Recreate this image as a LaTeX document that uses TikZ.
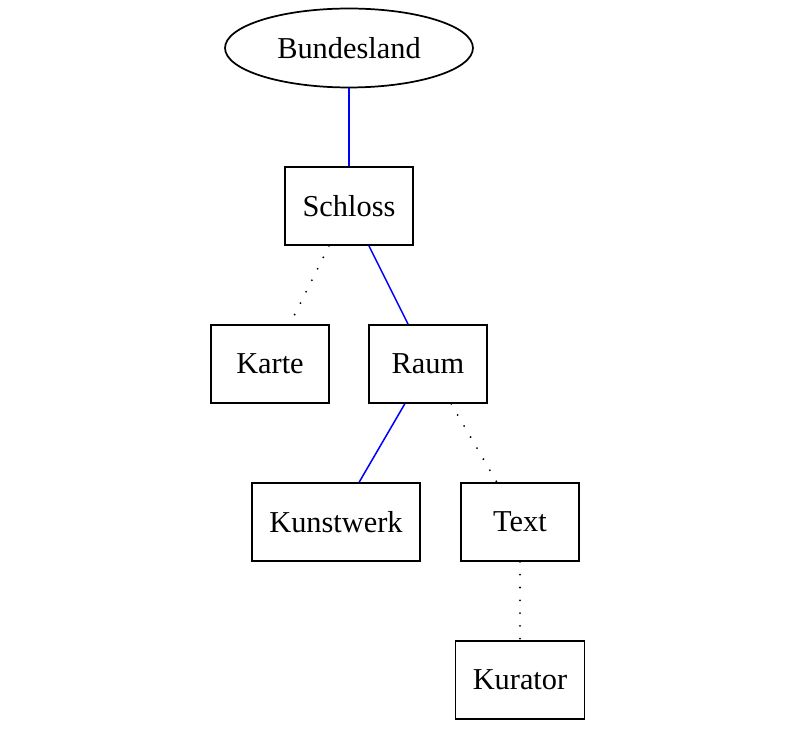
\documentclass[tikz,border=0pt]{standalone}
\usepackage{fontspec}
\setmainfont{Liberation Serif}
\usetikzlibrary{shapes.geometric}
\begin{document}
\begin{tikzpicture}
            [
            x = 0.461pt, y = -0.461pt,
            font = \fontsize{14pt}{16pt}\selectfont,
            main edge/.style = {blue, line width = 0.7pt},
            side edge/.style = {black, line width = 0.95pt, line cap = round, dash pattern = on 0pt off 5.9pt},
            ]
            \tikzstyle{box node}=[rectangle,draw,line width=0.8pt,inner xsep=8pt,minimum width=54.4pt,minimum height=36pt]
            \tikzstyle{oval node}=[ellipse,draw,line width=0.8pt,inner sep=0,minimum width=114.3pt,minimum height=36.4pt]

            \useasboundingbox (0,0) rectangle (807,730);

            \node[oval node] (bundesland) at (349,48) {Bundesland};
            \node[box node] (schloss) at (349,206) {Schloss};
            \node[box node] (karte) at (270,364) {Karte};
            \node[box node] (raum) at (428,364) {Raum};
            \node[box node] (kunstwerk) at (336,522) {Kunstwerk};
            \node[box node] (text) at (520,522) {Text};
            \node[box node] (kurator) at (520,680) {Kurator};

            \draw[main edge] (bundesland) -- (schloss);
            \draw[side edge] (schloss) -- (karte);
            \draw[main edge] (schloss) -- (raum);
            \draw[main edge] (raum) -- (kunstwerk);
            \draw[side edge] (raum) -- (text);
            \draw[side edge] (text) -- (kurator);
        \end{tikzpicture}
\end{document}
